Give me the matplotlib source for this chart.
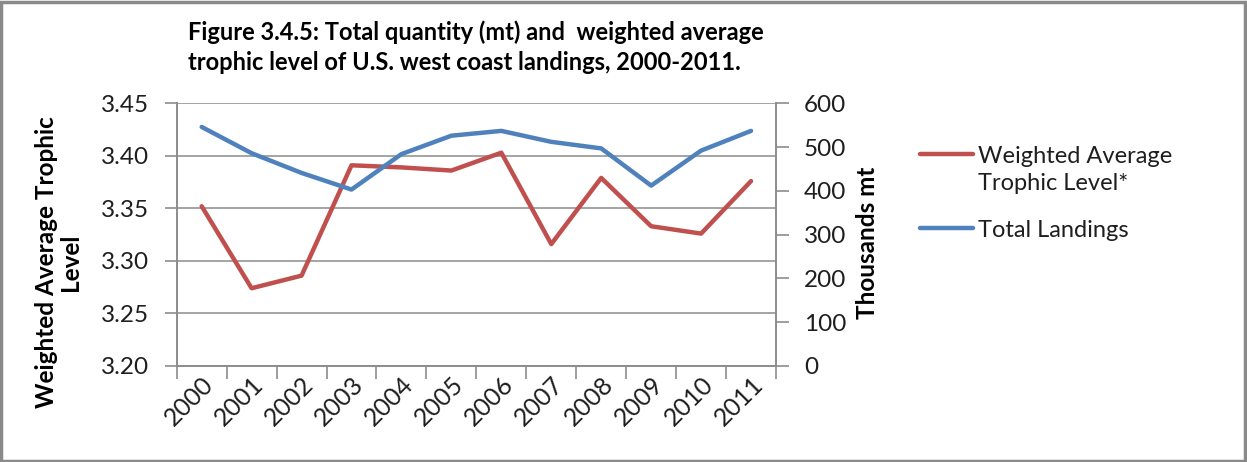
import matplotlib
matplotlib.use("Agg")
import matplotlib.pyplot as plt
from matplotlib.lines import Line2D
from matplotlib.patches import Rectangle
from matplotlib.ticker import FixedLocator, NullFormatter

years = ["2000", "2001", "2002", "2003", "2004", "2005",
         "2006", "2007", "2008", "2009", "2010", "2011"]
trophic_level = [3.352, 3.274, 3.286, 3.391, 3.389, 3.386,
                 3.403, 3.316, 3.379, 3.333, 3.326, 3.376]
total_landings = [546, 486, 441, 403, 484, 526,
                  537, 512, 497, 412, 492, 537]
series_names = ["Weighted Average\nTrophic Level*", "Total Landings"]

RED = "#C0504D"
BLUE = "#4F81BD"
GRID = "#8C8C8C"
TXT = "#1E1E1E"
FONT = ["Lato", "DejaVu Sans"]

plt.rcParams["font.family"] = FONT

fig = plt.figure(figsize=(12.47, 4.62), dpi=100)
fig.patches.append(Rectangle((0.001, 0.002), 0.997, 0.994, transform=fig.transFigure,
                             fill=False, edgecolor="#8A8A8A", linewidth=2.5))

ax = fig.add_axes([0.1417, 0.2078, 0.4806, 0.5686])
ax2 = ax.twinx()

x = list(range(len(years)))
ax.plot(x, trophic_level, color=RED, lw=3.2, solid_capstyle="round")
ax2.plot(x, total_landings, color=BLUE, lw=3.2, solid_capstyle="round")

ax.set_xlim(-0.5, len(years) - 0.5)
ax.set_ylim(3.20, 3.45)
left_ticks = [3.20, 3.25, 3.30, 3.35, 3.40, 3.45]
ax.set_yticks(left_ticks)
ax.set_yticklabels(["%.2f" % v for v in left_ticks])
ax2.set_ylim(0, 600)
ax2.set_yticks(range(0, 601, 100))

ax.xaxis.set_major_locator(FixedLocator([i - 0.5 for i in range(len(years) + 1)]))
ax.xaxis.set_major_formatter(NullFormatter())
ax.set_xticks(x, minor=True)
ax.set_xticklabels(years, minor=True, rotation=45, ha="right", va="top",
                   rotation_mode="anchor", fontsize=18, color=TXT)
ax.tick_params(axis="x", which="minor", length=0, pad=5)
ax.tick_params(axis="x", which="major", length=9, width=1.2, color=GRID, direction="out")

ax.grid(axis="y", color=GRID, lw=1.1)
ax.set_axisbelow(True)
for a in (ax, ax2):
    a.spines["top"].set_visible(False)
    for s in ("left", "right", "bottom"):
        a.spines[s].set_color(GRID)
        a.spines[s].set_linewidth(1.2)

ax.tick_params(axis="y", length=9, width=1.2, color=GRID, labelsize=17.5,
               labelcolor=TXT, pad=11)
ax2.tick_params(axis="y", length=9, width=1.2, color=GRID, labelsize=17.5,
                labelcolor=TXT, pad=11)

# axis titles
fig.text(0.0469, 0.433, "Weighted Average Trophic\nLevel", rotation=90,
         ha="center", va="center", fontsize=17.5, fontweight="bold",
         linespacing=1.05, multialignment="center")
fig.text(0.696, 0.474, "Thousands mt", rotation=90, ha="center", va="center",
         fontsize=17.5, fontweight="bold")

fig.text(0.1508, 0.955, "Figure 3.4.5: Total quantity (mt) and  weighted average\n"
         "trophic level of U.S. west coast landings, 2000-2011.",
         fontsize=17, fontweight="bold", ha="left", va="top", linespacing=1.35)

# legend, handle aligned with the first line of each entry
W, H = 1247.0, 462.0
legend_rows = [(154, RED, series_names[0]), (228, BLUE, series_names[1])]
for y_px, color, name in legend_rows:
    yf = 1 - y_px / H
    fig.add_artist(Line2D([920 / W, 973 / W], [yf, yf], transform=fig.transFigure,
                          color=color, lw=3.2, solid_capstyle="round"))
    fig.text(978 / W, 1 - (y_px - 8) / H, name, ha="left", va="top",
             fontsize=17, color=TXT, linespacing=1.35)

fig.savefig("out.png", dpi=100)
